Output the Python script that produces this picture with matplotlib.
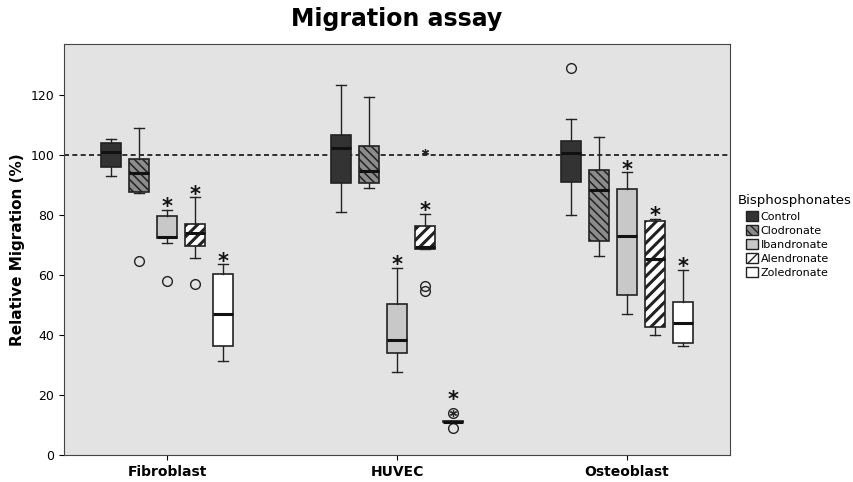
import matplotlib
matplotlib.use("Agg")
import matplotlib.pyplot as plt
from matplotlib.patches import Patch

groups = ["Fibroblast", "HUVEC", "Osteoblast"]
series = ["Control", "Clodronate", "Ibandronate", "Alendronate", "Zoledronate"]

# stats per group: [whisker low, Q1, median, Q3, whisker high]
control_stats = [[93.0, 95.9, 101.0, 103.9, 105.2],
                 [81.1, 90.8, 102.3, 106.7, 123.3],
                 [79.9, 91.1, 100.8, 104.7, 111.9]]
clodronate_stats = [[87.2, 87.8, 93.9, 98.5, 108.9],
                    [89.1, 90.6, 94.7, 102.8, 119.3],
                    [66.2, 71.4, 88.4, 95.0, 106.1]]
ibandronate_stats = [[70.8, 72.3, 72.6, 79.8, 81.8],
                     [27.8, 33.9, 38.3, 50.2, 62.4],
                     [46.9, 53.3, 73.1, 88.8, 94.2]]
alendronate_stats = [[65.7, 69.7, 73.9, 77.0, 85.9],
                     [68.7, 68.7, 69.2, 76.4, 80.4],
                     [39.9, 42.8, 65.3, 77.9, 78.7]]
zoledronate_stats = [[31.2, 36.3, 47.1, 60.3, 63.6],
                     [10.9, 10.9, 11.1, 11.3, 11.3],
                     [36.3, 37.2, 44.0, 50.9, 61.7]]

# outliers (circles) per group
control_out = [[], [], [129.0]]
clodronate_out = [[64.7], [], []]
ibandronate_out = [[58.0], [], []]
alendronate_out = [[57.0], [56.3, 54.7], []]
zoledronate_out = [[], [9.1, 14.1], []]
# extreme values (star markers) per group
alendronate_extreme = [[], [101.0], []]
zoledronate_extreme = [[], [14.1], []]

# significance stars
significant = [False, False, True, True, True]

all_stats = [control_stats, clodronate_stats, ibandronate_stats,
             alendronate_stats, zoledronate_stats]
all_out = [control_out, clodronate_out, ibandronate_out, alendronate_out, zoledronate_out]
all_ext = [[[], [], []], [[], [], []], [[], [], []], alendronate_extreme, zoledronate_extreme]

facecolors = ["#333333", "#8c8c8c", "#c8c8c8", "#ffffff", "#ffffff"]
hatches = [None, "\\\\\\\\", None, "///", None]
hatch_lw = [0, 1.1, 0, 2.2, 0]

fig = plt.figure(figsize=(8.54, 4.82), dpi=100)
ax = fig.add_axes([0.075, 0.056, 0.78, 0.853])
ax.set_facecolor("#e3e3e3")

offset = 0.1217
width = 0.087

for si, name in enumerate(series):
    stats = []
    positions = []
    for gi in range(len(groups)):
        lo, q1, med, q3, hi = all_stats[si][gi]
        stats.append(dict(whislo=lo, q1=q1, med=med, q3=q3, whishi=hi,
                          fliers=all_out[si][gi], label=""))
        positions.append(gi + (si - 2) * offset)
    with plt.rc_context({"hatch.linewidth": hatch_lw[si] if hatch_lw[si] else 1.0,
                         "hatch.color": "#111111"}):
        bp = ax.bxp(stats, positions=positions, widths=width, patch_artist=True,
                    showfliers=True, manage_ticks=False,
                    boxprops=dict(facecolor=facecolors[si], edgecolor="#222222", linewidth=1.2),
                    medianprops=dict(color="#111111", linewidth=2.2),
                    whiskerprops=dict(color="#222222", linewidth=1.0),
                    capprops=dict(color="#222222", linewidth=1.0),
                    capwidths=width * 0.5,
                    flierprops=dict(marker="o", markerfacecolor="none",
                                    markeredgecolor="#222222", markersize=7, markeredgewidth=1.0))
        for b in bp["boxes"]:
            if hatches[si]:
                b.set_hatch(hatches[si])
                if hasattr(b, "set_hatch_linewidth"):
                    b.set_hatch_linewidth(hatch_lw[si])
    for gi in range(len(groups)):
        x = gi + (si - 2) * offset
        ext = all_ext[si][gi]
        if ext:
            ax.plot([x] * len(ext), ext, linestyle="none", marker=(6, 2, 0), ms=5,
                    mew=0.9, color="#222222", zorder=6)
        if significant[si]:
            top = all_stats[si][gi][4]
            gap = 4.2
            near = [v for v in ext if 0 < v - top < 10]
            if near:
                top = max(near)
                gap = 7.5
            ax.text(x, top + gap, "*", ha="center", va="top", fontsize=15,
                    fontweight="bold", color="#111111")

ax.axhline(100, color="#111111", linestyle=(0, (3, 2)), linewidth=1.2, zorder=1.5)

ax.set_xlim(-0.448, 2.448)
ax.set_ylim(0, 137)
ax.set_yticks([0, 20, 40, 60, 80, 100, 120])
ax.set_xticks(range(len(groups)))
ax.set_xticklabels(groups, fontweight="bold", fontsize=10)
ax.tick_params(axis="y", labelsize=9)
ax.set_ylabel("Relative Migration (%)", fontweight="bold", fontsize=11)
for s in ax.spines.values():
    s.set_color("#444444")
fig.suptitle("Migration assay", fontweight="bold", fontsize=17, x=0.465, y=0.985)

handles = []
for si, name in enumerate(series):
    with plt.rc_context({"hatch.linewidth": hatch_lw[si] if hatch_lw[si] else 1.0}):
        handles.append(Patch(facecolor=facecolors[si], edgecolor="#222222",
                             hatch=hatches[si], label=name))
fig.text(0.864, 1 - 200 / 482, "Bisphosphonates", fontsize=9.5, ha="left", va="center")
leg = fig.legend(handles=handles, loc="upper left",
                 bbox_to_anchor=(0.874, 1 - 211 / 482), frameon=False, fontsize=8,
                 handlelength=1.0, handleheight=1.0, borderaxespad=0, borderpad=0,
                 handletextpad=0.3, labelspacing=0.3)

fig.savefig("out.png", dpi=100)
